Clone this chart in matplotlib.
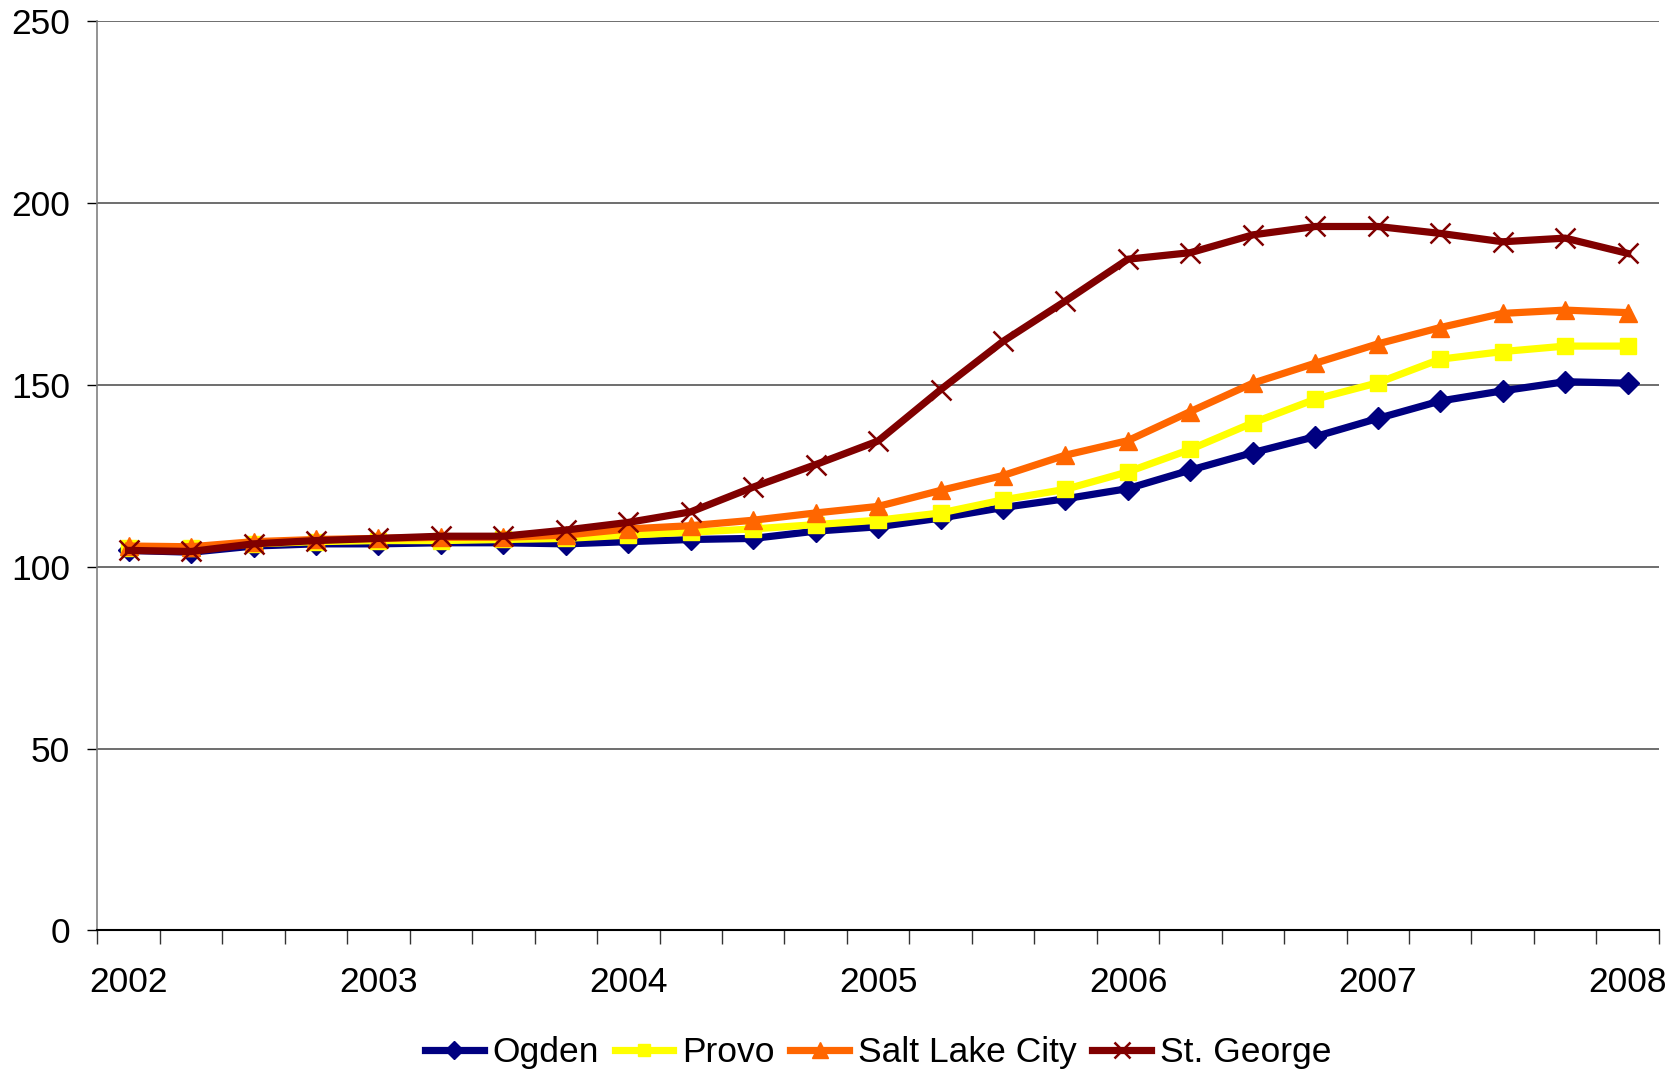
import matplotlib.pyplot as plt
import numpy as np

plt.rcParams['font.family'] = ['Liberation Sans', 'DejaVu Sans']

# quarterly house price index, 2002 Q1 to 2008 Q1
quarters = ['2002', '', '', '', '2003', '', '', '', '2004', '', '', '', '2005', '', '', '',
            '2006', '', '', '', '2007', '', '', '', '2008']

ogden = [104.5, 104.0, 105.7, 106.3, 106.3, 106.6, 106.6, 106.3, 106.9, 107.5, 107.8, 109.8, 111.0,
         113.4, 116.3, 118.7, 121.5, 126.6, 131.4, 135.8, 140.8, 145.6, 148.4, 150.9, 150.5]
provo = [105.1, 105.1, 106.3, 106.9, 107.2, 107.2, 107.5, 107.8, 108.7, 109.5, 110.4, 111.6, 112.8,
         114.8, 118.4, 121.3, 126.1, 132.3, 139.6, 146.1, 150.6, 157.1, 159.2, 160.7, 160.7]
salt_lake = [105.7, 105.5, 106.9, 107.5, 107.8, 108.1, 108.1, 108.7, 110.4, 111.3, 112.8, 114.8, 116.6,
             121.0, 125.1, 130.7, 134.7, 142.7, 150.5, 156.0, 161.3, 165.8, 169.7, 170.6, 169.9]
st_george = [104.5, 104.2, 106.3, 107.2, 107.8, 108.4, 108.4, 110.1, 112.2, 115.1, 121.9, 128.1, 134.6,
             148.7, 162.0, 173.1, 184.6, 186.4, 191.3, 193.6, 193.6, 191.7, 189.4, 190.4, 186.2]

series = [
    ('Ogden', ogden, '#000080', 'D', 11),
    ('Provo', provo, '#FFFF00', 's', 11),
    ('Salt Lake City', salt_lake, '#FF6600', '^', 13),
    ('St. George', st_george, '#800000', 'x', 14),
]

fs = 25.5

fig = plt.figure(figsize=(16.79, 10.73), dpi=100)
ax = fig.add_axes([0.058, 0.133, 0.930, 0.847])

x = np.arange(len(quarters))
for name, vals, col, mk, ms in series:
    ax.plot(x, vals, color=col, lw=5.2, marker=mk, ms=ms, mfc=col, mec=col,
            mew=1.8 if mk == 'x' else 1, label=name, solid_joinstyle='round')

ax.set_xlim(-0.5, len(quarters) - 0.5)
ax.set_ylim(0, 250)
ax.set_yticks(np.arange(0, 251, 50))
ax.yaxis.grid(True, color='#555555', lw=1.2)
ax.set_axisbelow(True)

# category ticks between points, year labels under every fourth point
ax.set_xticks(np.arange(-0.5, len(quarters), 1.0))
ax.set_xticklabels([])
ax.set_xticks(x, minor=True)
ax.set_xticklabels(quarters, minor=True)
ax.tick_params(axis='x', which='major', length=10, width=1, color='#333333', direction='out')
ax.tick_params(axis='x', which='minor', length=0, pad=26, labelsize=fs)
ax.tick_params(axis='y', length=7.5, width=1, color='black', pad=12, labelsize=fs)

for s in ['top', 'right']:
    ax.spines[s].set_visible(False)
ax.spines['left'].set_color('#808080')
ax.spines['left'].set_linewidth(1.2)
ax.spines['bottom'].set_color('black')
ax.spines['bottom'].set_linewidth(1.5)

ax.legend(loc='center', bbox_to_anchor=(0.5, -0.135), ncol=4, frameon=False, fontsize=fs,
          numpoints=1, handlelength=1.65, handletextpad=0.25, columnspacing=0.45, markerscale=0.85)

fig.savefig('out.png', dpi=100)
